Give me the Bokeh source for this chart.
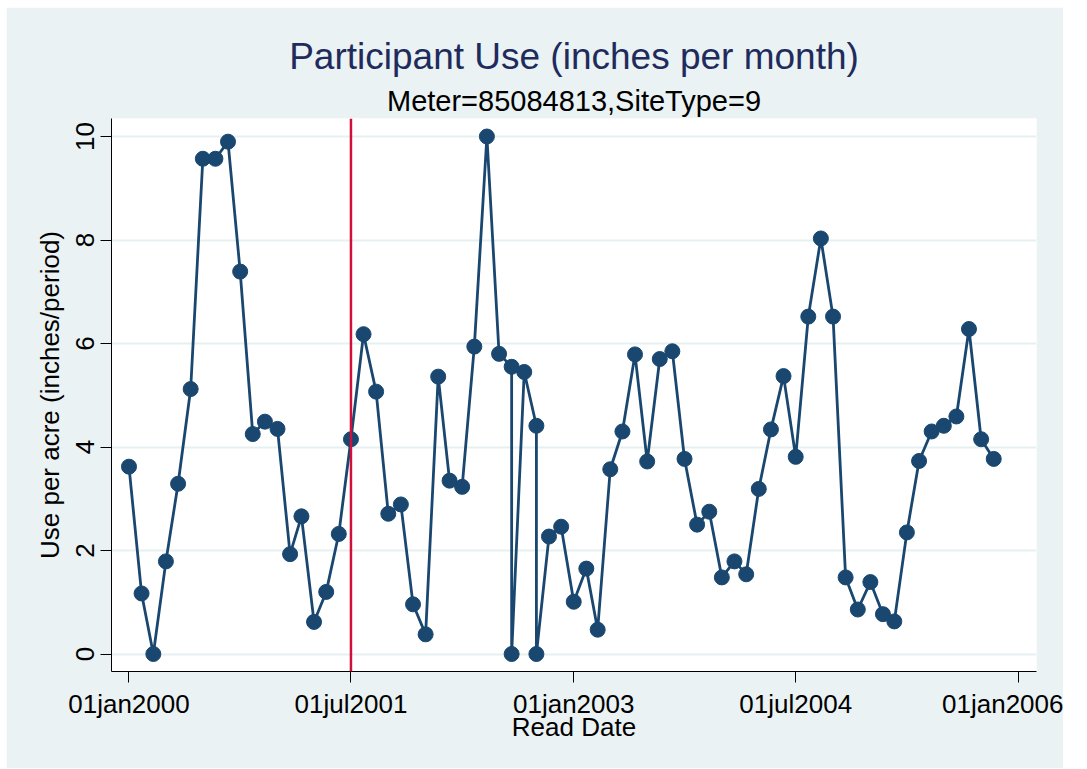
import pandas as pd
from bokeh.plotting import figure
from bokeh.models import (FixedTicker, Range1d, Span, Title, Spacer,
                          CustomJSTickFormatter, ColumnDataSource)
from bokeh.layouts import column, row
from bokeh.embed import file_html
from bokeh.resources import INLINE

# ---- data -------------------------------------------------------------
read_dates = (
    ["2000-%02d-01" % m for m in range(1, 13)]
    + ["2001-%02d-01" % m for m in range(1, 13)]
    + ["2002-01-01", "2002-02-01", "2002-03-01", "2002-04-01", "2002-05-01",
       "2002-06-01", "2002-07-01", "2002-08-01", "2002-08-01", "2002-09-01",
       "2002-10-01", "2002-10-01", "2002-11-01", "2002-12-01"]
    + ["2003-%02d-01" % m for m in range(1, 13)]
    + ["2004-%02d-01" % m for m in range(1, 13)]
    + ["2005-%02d-01" % m for m in range(1, 12)]
)
use_per_acre = [
    # 2000
    3.62, 1.17, 0.00, 1.79, 3.29, 5.12, 9.57, 9.57, 9.90, 7.39, 4.25, 4.49,
    # 2001
    4.35, 1.93, 2.66, 0.62, 1.20, 2.32, 4.15, 6.18, 5.07, 2.71, 2.89, 0.96,
    # 2002
    0.38, 5.36, 3.35, 3.23, 5.94, 10.00, 5.80, 5.55, 0.00, 5.45,
    4.41, 0.00, 2.27, 2.46,
    # 2003
    1.01, 1.65, 0.47, 3.57, 4.30, 5.79, 3.72, 5.70, 5.85, 3.77, 2.50, 2.75,
    # 2004
    1.48, 1.79, 1.54, 3.19, 4.34, 5.37, 3.81, 6.52, 8.03, 6.52, 1.48, 0.86,
    # 2005
    1.39, 0.77, 0.63, 2.35, 3.73, 4.30, 4.41, 4.59, 6.28, 4.15, 3.77,
]
x_tick_dates = ["2000-01-01", "2001-07-01", "2003-01-01", "2004-07-01", "2006-01-01"]
y_ticks = [0, 2, 4, 6, 8, 10]
program_start = "2001-07-01"

title_text = "Participant Use (inches per month)"
subtitle_text = "Meter=85084813,SiteType=9"
x_title = "Read Date"
y_title = "Use per acre (inches/period)"

# ---- styling ----------------------------------------------------------
FONT = "Liberation Sans"
NAVY = "#1A476F"
BG = "#EAF2F3"


def ms(d):
    return pd.Timestamp(d).value / 1e6


src = ColumnDataSource(dict(date=pd.to_datetime(read_dates), use=use_per_acre))

day = 86400000.0
p = figure(
    width=1057, height=761,
    x_axis_type="datetime",
    x_range=Range1d(ms("2000-01-01") - 43.1 * day, ms("2006-01-01") + 44.4 * day),
    y_range=Range1d(-0.338, 10.348),
    output_backend="svg", toolbar_location=None,
    min_border_left=105, min_border_right=27,
    min_border_top=111, min_border_bottom=97,
    background_fill_color="white", border_fill_color=BG,
    outline_line_color=None,
)

# titles (first added sits nearest the plot)
p.add_layout(Title(text=subtitle_text, align="center", text_font=FONT,
                   text_font_size="29px", text_font_style="normal",
                   text_color="black", standoff=4), "above")
p.add_layout(Title(text=title_text, align="center", text_font=FONT,
                   text_font_size="37px", text_font_style="normal",
                   text_color="#1E2B5C", standoff=7), "above")

# x axis
xa = p.xaxis[0]
xa.ticker = FixedTicker(ticks=[ms(d) for d in x_tick_dates])
xa.formatter = CustomJSTickFormatter(code="""
    const m = ['jan','feb','mar','apr','may','jun','jul','aug','sep','oct','nov','dec'];
    const d = new Date(tick);
    const dd = String(d.getUTCDate()).padStart(2, '0');
    return dd + m[d.getUTCMonth()] + d.getUTCFullYear();
""")
xa.axis_label = x_title

# y axis
ya = p.yaxis[0]
ya.ticker = FixedTicker(ticks=y_ticks)
ya.major_label_orientation = "vertical"
ya.axis_label = y_title

for ax in (xa, ya):
    ax.minor_tick_line_color = None
    ax.major_tick_in = 0
    ax.major_tick_out = 11
    ax.major_tick_line_color = "black"
    ax.axis_line_color = "black"
    ax.axis_line_width = 1
    ax.major_label_text_font = FONT
    ax.major_label_text_font_size = "26px"
    ax.major_label_text_color = "black"
    ax.axis_label_text_font = FONT
    ax.axis_label_text_font_size = "26px"
    ax.axis_label_text_font_style = "normal"
    ax.axis_label_text_color = "black"
xa.major_label_standoff = 6
xa.axis_label_standoff = -10
ya.major_label_standoff = 6
ya.axis_label_standoff = 9

p.xgrid.grid_line_color = None
p.ygrid.ticker = FixedTicker(ticks=y_ticks)
p.ygrid.grid_line_color = "#E6EFF1"
p.ygrid.grid_line_width = 2

p.add_layout(Span(location=ms(program_start), dimension="height",
                  line_color="#D0103A", line_width=2.5))

p.line("date", "use", source=src, line_color=NAVY, line_width=2.8)
p.scatter("date", "use", source=src, size=15, fill_color=NAVY,
          line_color=NAVY, marker="circle")

page = column(Spacer(height=7), row(Spacer(width=6), p))
open("out.html", "w").write(file_html(page, INLINE))
